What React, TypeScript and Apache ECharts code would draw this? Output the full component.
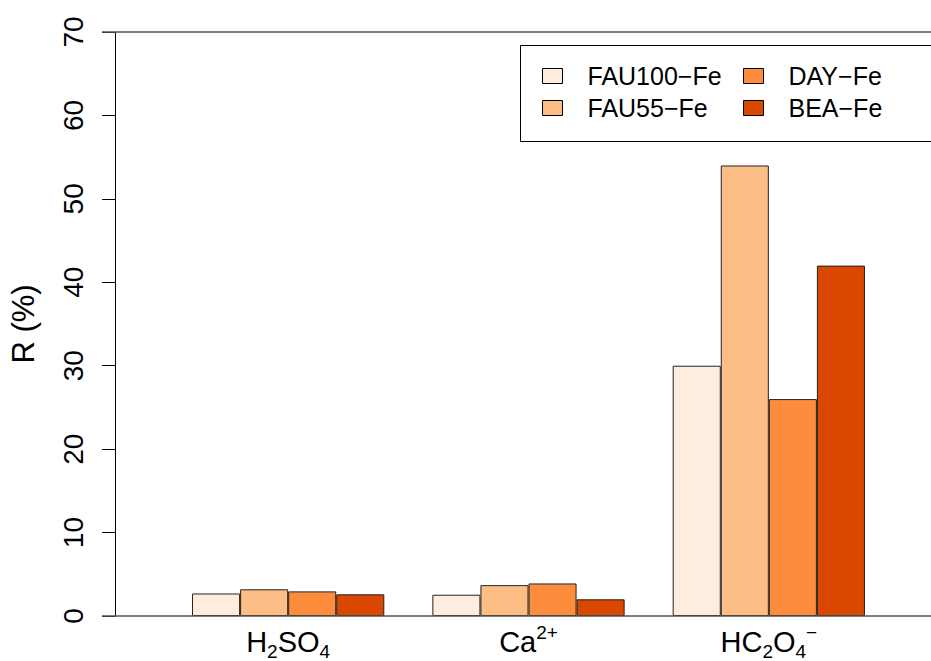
import React, { useEffect, useRef } from "react";
import * as echarts from "echarts";

const categories = ["H2SO4", "Ca2+", "HC2O4-"];
const categoryLabels = [
  "H{sub|2}SO{sub|4}",
  "Ca{sup|2+}",
  "HC{sub|2}O{sub|4}{sup|−}",
];
const seriesNames = ["FAU100−Fe", "FAU55−Fe", "DAY−Fe", "BEA−Fe"];
const fau100 = [2.7, 2.55, 30];
const fau55 = [3.2, 3.7, 54];
const day = [2.95, 3.9, 26];
const bea = [2.6, 2.0, 42];
const colors = ["#FEEDDE", "#FDBE85", "#FD8D3C", "#D94701"];
const yTicks = [0, 10, 20, 30, 40, 50, 60, 70];

const FONT = "Liberation Sans";

export default function App() {
  const ref = useRef<HTMLDivElement>(null);
  useEffect(() => {
    if (!ref.current) return;
    const chart = echarts.init(ref.current, null, { renderer: "svg" });
    const values = [fau100, fau55, day, bea];
    const labelMap: Record<string, string> = {};
    categories.forEach((c, i) => (labelMap[c] = categoryLabels[i]));
    const legendCommon = {
      orient: "vertical",
      top: 63,
      padding: 0,
      icon: "rect",
      itemWidth: 20,
      itemHeight: 15,
      itemGap: 6,
      itemStyle: { borderColor: "#000", borderWidth: 1 },
      textStyle: { fontFamily: FONT, fontSize: 25, color: "#000", lineHeight: 26, padding: [0, 0, 0, 20] },
    };
    const option: any = {
      animation: false,
      backgroundColor: "#ffffff",
      textStyle: { fontFamily: FONT },
      grid: [
        { left: 168, right: 42, top: 32, bottom: 45, containLabel: false, outerBoundsMode: "none" },
        { left: 102, right: 0, top: 32, bottom: 45, containLabel: false, outerBoundsMode: "none" },
      ],
      xAxis: [
        {
          type: "category",
          gridIndex: 0,
          data: categories,
          axisLine: { show: false },
          axisTick: { show: false },
          axisLabel: {
            interval: 0,
            margin: 7,
            color: "#000",
            fontFamily: FONT,
            fontSize: 29,
            lineHeight: 38,
            formatter: (v: string) => labelMap[v],
            rich: {
              sub: { fontSize: 19, fontFamily: FONT, color: "#000", verticalAlign: "bottom", lineHeight: 19 },
              sup: { fontSize: 19, fontFamily: FONT, color: "#000", verticalAlign: "top", lineHeight: 19 },
            },
          },
        },
        { type: "value", gridIndex: 1, min: 0, max: 1, show: false },
      ],
      yAxis: [
        {
          type: "value",
          gridIndex: 0,
          min: yTicks[0],
          max: yTicks[yTicks.length - 1],
          interval: 10,
          offset: 53,
          splitLine: { show: false },
          axisLine: { show: true, lineStyle: { color: "#000", width: 1 } },
          axisTick: { show: true, length: 13, lineStyle: { color: "#000", width: 1 } },
          axisLabel: {
            rotate: 90,
            margin: 28,
            color: "#000",
            fontFamily: FONT,
            fontSize: 28,
          },
          name: "R (%)",
          nameLocation: "middle",
          nameGap: 76,
          nameTextStyle: { color: "#000", fontFamily: FONT, fontSize: 31 },
        },
        { type: "value", gridIndex: 1, min: 0, max: 70, show: false },
      ],
      legend: [
        { ...legendCommon, data: [seriesNames[0], seriesNames[1]], left: 542 },
        { ...legendCommon, data: [seriesNames[2], seriesNames[3]], left: 743 },
      ],
      graphic: [
        {
          type: "rect",
          left: 518,
          top: 43,
          shape: { width: 440, height: 96 },
          style: { fill: "none", stroke: "#000", lineWidth: 1 },
          z: 10,
        },
      ],
      series: [
        ...seriesNames.map((name, i) => ({
          name,
          type: "bar",
          xAxisIndex: 0,
          yAxisIndex: 0,
          data: values[i],
          barGap: "0%",
          barCategoryGap: "20%",
          itemStyle: { color: colors[i], borderColor: "#222", borderWidth: 1 },
        })),
        {
          type: "line",
          xAxisIndex: 1,
          yAxisIndex: 1,
          data: [],
          silent: true,
          markLine: {
            symbol: "none",
            silent: true,
            label: { show: false },
            lineStyle: { color: "#555", width: 1.5, type: "solid" },
            data: [{ yAxis: yTicks[0] }, { yAxis: yTicks[yTicks.length - 1] }],
          },
        },
      ],
    };
    chart.setOption(option);
    return () => chart.dispose();
  }, []);
  return (
    <div
      ref={ref}
      style={{ position: "absolute", left: 0, top: 0, width: 931, height: 661 }}
    />
  );
}
